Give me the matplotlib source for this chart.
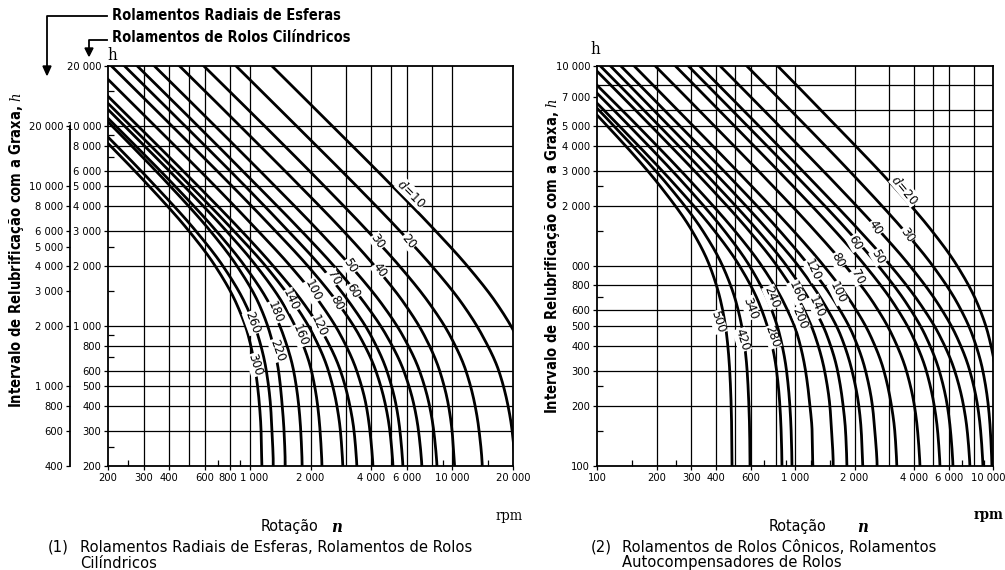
import numpy as np
import matplotlib
matplotlib.use("Agg")
import matplotlib.pyplot as plt
import matplotlib.transforms as mtransforms
from matplotlib.patches import Polygon

plt.rcParams['font.family'] = ['DejaVu Sans']
plt.rcParams['font.stretch'] = 'condensed'
plt.rcParams['mathtext.fontset'] = 'dejavuserif'

W, H = 1005, 570
fig = plt.figure(figsize=(W / 100, H / 100), dpi=100)


def px_axes(x0, y0, x1, y1):
    return fig.add_axes([x0 / W, 1 - y1 / H, (x1 - x0) / W, (y1 - y0) / H])


# ======================= data: left chart (1) =======================
L_xticks = [200, 300, 400, 600, 800, 1000, 2000, 4000, 6000, 10000, 20000]
L_xlabels = ['200', '300', '400', '600', '800', '1 000', '2 000', '4 000', '6 000', '10 000', '20 000']
L_xgrid = [300, 400, 500, 600, 800, 1000, 2000, 3000, 4000, 5000, 6000, 8000, 10000]
L_xminor = [250, 700, 900, 1500, 7000, 9000, 15000]
L_yticks = [20000, 10000, 8000, 6000, 5000, 4000, 3000, 2000, 1000, 800, 600, 500, 400, 300, 200]
L_ylabels = ['20 000', '10 000', '8 000', '6 000', '5 000', '4 000', '3 000', '2 000',
             '1 000', '800', '600', '500', '400', '300', '200']
L_ygrid = [10000, 8000, 6000, 5000, 4000, 3000, 2000, 1000, 800, 600, 500, 400, 300]
L_yminor = [15000, 9000, 7000, 2500, 1500, 900, 700, 250]
L_outer_ticks = [20000, 10000, 8000, 6000, 5000, 4000, 3000, 2000, 1000, 800, 600, 400]
L_outer_labels = ['20 000', '10 000', '8 000', '6 000', '5 000', '4 000', '3 000', '2 000',
                  '1 000', '800', '600', '400']

# interval h (inner scale) at which the speed of every curve was read
L_h = [30000, 20000, 10000, 5000, 3000, 2000, 1300, 900, 600, 400, 300, 200, 150]
L_d = [10, 20, 30, 40, 50, 60, 70, 80, 100, 120, 140, 160, 180, 220, 260, 300]
L_n = [
    [861, 1290, 2570, 5090, 8280, 11900, 16600, 20700, 24600, 27100, 28300, 29100, 29500],
    [572, 858, 1710, 3390, 5520, 7950, 11200, 14100, 17000, 18900, 19800, 20500, 20700],
    [396, 594, 1190, 2350, 3820, 5500, 7730, 9760, 11700, 13000, 13600, 14100, 14200],
    [301, 451, 900, 1780, 2900, 4150, 5810, 7290, 8680, 9610, 10000, 10300, 10500],
    [226, 339, 677, 1340, 2190, 3160, 4480, 5700, 6900, 7740, 8120, 8430, 8550],
    [186, 279, 557, 1100, 1800, 2610, 3710, 4740, 5770, 6500, 6830, 7100, 7210],
    [161, 241, 482, 954, 1550, 2240, 3140, 3970, 4760, 5300, 5530, 5720, 5800],
    [139, 208, 415, 823, 1340, 1940, 2740, 3480, 4200, 4700, 4930, 5110, 5180],
    [114, 172, 342, 678, 1100, 1590, 2240, 2820, 3380, 3770, 3930, 4070, 4120],
    [94, 141, 282, 559, 911, 1310, 1850, 2340, 2810, 3130, 3280, 3390, 3440],
    [87, 130, 260, 514, 835, 1200, 1660, 2070, 2450, 2700, 2810, 2890, 2930],
    [81, 122, 242, 477, 767, 1080, 1460, 1760, 2020, 2170, 2230, 2280, 2300],
    [73, 110, 219, 430, 684, 947, 1250, 1470, 1650, 1750, 1790, 1820, 1830],
    [70, 106, 210, 407, 639, 867, 1110, 1270, 1390, 1450, 1480, 1500, 1500],
    [59, 88, 177, 344, 542, 739, 951, 1100, 1210, 1270, 1290, 1310, 1310],
    [55, 83, 165, 320, 501, 677, 861, 985, 1070, 1120, 1140, 1150, 1160],
]
L_lab_n = [6300, 6100, 4300, 4400, 3150, 3250, 2600, 2700, 2050, 2200, 1600, 1780, 1340, 1370, 1030, 1060]
L_lab_h = [4600, 2650, 2650, 1900, 2000, 1500, 1750, 1300, 1500, 1000, 1350, 900, 1180, 760, 1040, 640]
L_lab_rot = [-45, -50, -55, -55, -58, -60, -60, -62, -63, -65, -65, -68, -68, -70, -70, -72]

# ======================= data: right chart (2) =======================
R_xticks = [100, 200, 300, 400, 600, 1000, 2000, 4000, 6000, 10000]
R_xlabels = ['100', '200', '300', '400', '600', '1 000', '2 000', '4 000', '6 000', '10 000']
R_xgrid = [200, 300, 400, 500, 600, 800, 1000, 2000, 3000, 4000, 5000, 6000, 8000]
R_xminor = [150, 250, 700, 900, 1200, 1500, 7000, 9000]
R_yticks = [10000, 7000, 5000, 4000, 3000, 2000, 1000, 800, 600, 500, 400, 300, 200, 100]
R_ylabels = ['10 000', '7 000', '5 000', '4 000', '3 000', '2 000', '000', '800', '600',
             '500', '400', '300', '200', '100']
R_ygrid = [8000, 6000, 5000, 4000, 3000, 2000, 1000, 800, 600, 500, 400, 300, 200]
R_yminor = [2500, 1500, 700, 250, 150]

R_h = [15000, 10000, 5000, 2500, 1500, 1000, 650, 450, 300, 200, 150, 100, 80]
R_d = [20, 30, 40, 50, 60, 70, 80, 100, 120, 140, 160, 200, 240, 280, 340, 420, 500]
R_n = [
    [546, 818, 1620, 3150, 4910, 6600, 8340, 9490, 10300, 10700, 10900, 11000, 11100],
    [381, 571, 1140, 2230, 3560, 4970, 6620, 7880, 8880, 9470, 9700, 9880, 9940],
    [279, 419, 835, 1650, 2670, 3810, 5260, 6510, 7630, 8360, 8660, 8900, 8980],
    [220, 330, 659, 1300, 2120, 3050, 4270, 5370, 6400, 7100, 7410, 7650, 7730],
    [193, 289, 577, 1140, 1850, 2640, 3660, 4550, 5350, 5880, 6100, 6280, 6330],
    [166, 249, 496, 980, 1590, 2270, 3150, 3910, 4600, 5050, 5250, 5400, 5450],
    [131, 197, 393, 777, 1260, 1800, 2500, 3100, 3650, 4010, 4160, 4280, 4320],
    [103, 154, 307, 606, 982, 1400, 1940, 2400, 2810, 3070, 3190, 3270, 3300],
    [88, 132, 263, 519, 837, 1180, 1610, 1970, 2270, 2460, 2530, 2600, 2610],
    [77, 117, 232, 457, 735, 1040, 1400, 1700, 1940, 2100, 2160, 2200, 2220],
    [69, 104, 207, 406, 650, 908, 1210, 1450, 1640, 1750, 1800, 1830, 1840],
    [63, 94, 188, 368, 586, 812, 1070, 1260, 1410, 1500, 1530, 1560, 1560],
    [54, 80, 161, 314, 496, 680, 882, 1030, 1130, 1190, 1220, 1230, 1240],
    [49, 73, 146, 283, 440, 590, 740, 838, 906, 942, 956, 966, 969],
    [43, 65, 130, 252, 392, 525, 659, 746, 807, 839, 851, 860, 863],
    [41, 62, 122, 231, 342, 431, 506, 548, 573, 585, 590, 593, 594],
    [38, 57, 113, 209, 302, 371, 424, 452, 468, 476, 479, 481, 482],
]
R_lab_n = [3594, 3679, 2535, 2626, 2009, 2080, 1648, 1648, 1233, 1291, 1023, 1060, 765, 765, 593, 540, 408]
R_lab_h = [2399, 1429, 1549, 1109, 1303, 881, 1072, 733, 955, 624, 741, 550, 700, 442, 617, 427, 525]
R_lab_rot = [-50, -55, -58, -60, -60, -62, -62, -64, -65, -66, -66, -68, -68, -70, -70, -72, -72]


# ======================= helpers =======================
def smooth_path(h_pts, n_pts, num=300):
    """Monotone cubic (PCHIP) line through the read points, in log-log space."""
    t = np.log10(np.asarray(h_pts, float))[::-1]
    y = np.log10(np.asarray(n_pts, float))[::-1]
    hk = np.diff(t)
    dk = np.diff(y) / hk
    m = np.zeros_like(y)
    m[0], m[-1] = dk[0], dk[-1]
    for k in range(1, len(y) - 1):
        if dk[k - 1] * dk[k] <= 0:
            m[k] = 0.0
        else:
            w1 = 2 * hk[k] + hk[k - 1]
            w2 = hk[k] + 2 * hk[k - 1]
            m[k] = (w1 + w2) / (w1 / dk[k - 1] + w2 / dk[k])
    tt = np.linspace(t[0], t[-1], num)
    idx = np.clip(np.searchsorted(t, tt) - 1, 0, len(t) - 2)
    s = (tt - t[idx]) / hk[idx]
    h00 = 2 * s ** 3 - 3 * s ** 2 + 1
    h10 = s ** 3 - 2 * s ** 2 + s
    h01 = -2 * s ** 3 + 3 * s ** 2
    h11 = s ** 3 - s ** 2
    yy = h00 * y[idx] + h10 * hk[idx] * m[idx] + h01 * y[idx + 1] + h11 * hk[idx] * m[idx + 1]
    return 10 ** yy, 10 ** tt


def setup(ax, xlim, ylim, xticks, xlabels, xgrid, xminor, yticks, ylabels, ygrid, yminor):
    ax.set_xscale('log')
    ax.set_yscale('log')
    ax.set_xlim(*xlim)
    ax.set_ylim(*ylim)
    for v in xgrid:
        ax.axvline(v, color='k', lw=0.9, zorder=1)
    for v in ygrid:
        ax.axhline(v, color='k', lw=0.9, zorder=1)
    ax.set_xticks(xticks)
    ax.set_xticklabels(xlabels)
    ax.set_yticks(yticks)
    ax.set_yticklabels(ylabels)
    ax.set_xticks(xminor, minor=True)
    ax.set_yticks(yminor, minor=True)
    ax.set_xticklabels([], minor=True)
    ax.set_yticklabels([], minor=True)
    ax.tick_params(which='major', direction='out', length=3, width=0.9, labelsize=8, pad=2)
    ax.tick_params(which='minor', direction='in', length=4, width=0.9)
    for s in ax.spines.values():
        s.set_linewidth(1.3)


def draw_curves(ax, h_pts, curves):
    for n_pts in curves:
        n, h = smooth_path(h_pts, n_pts)
        ax.plot(n, h, color='k', lw=2.0, zorder=3, solid_capstyle='butt')


def draw_labels(ax, ds, ln, lh, rot):
    for i, (d, n, h, r) in enumerate(zip(ds, ln, lh, rot)):
        txt = (r'$d$=%d' % d) if i == 0 else str(d)
        ax.text(n, h, txt, rotation=r, ha='center', va='center', fontsize=9.5,
                zorder=5, bbox=dict(facecolor='white', edgecolor='none', pad=0.3),
                rotation_mode='anchor')


def shift_label(lbl, dx_px):
    lbl.set_transform(lbl.get_transform() +
                      mtransforms.ScaledTranslation(dx_px / 100, 0, fig.dpi_scale_trans))


# ======================= charts =======================
axL = px_axes(108, 66, 513, 466)
setup(axL, (200, 20000), (200, 20000), L_xticks, L_xlabels, L_xgrid, L_xminor,
      L_yticks, L_ylabels, L_ygrid, L_yminor)
draw_curves(axL, L_h, L_n)
draw_labels(axL, L_d, L_lab_n, L_lab_h, L_lab_rot)
xl = axL.get_xticklabels()
shift_label(xl[4], -2)
shift_label(xl[5], 5)

axR = px_axes(597, 66, 993, 466)
setup(axR, (100, 10000), (100, 10000), R_xticks, R_xlabels, R_xgrid, R_xminor,
      R_yticks, R_ylabels, R_ygrid, R_yminor)
draw_curves(axR, R_h, R_n)
draw_labels(axR, R_d, R_lab_n, R_lab_h, R_lab_rot)
shift_label(axR.get_xticklabels()[-1], -5)

# outer (ball bearing) scale of the left chart: double the inner values
axO = px_axes(70, 66, 71, 466)
axO.set_yscale('log')
axO.set_ylim(400, 40000)
for s in ['top', 'right', 'bottom']:
    axO.spines[s].set_visible(False)
axO.spines['left'].set_bounds(400, 20000)
axO.spines['left'].set_linewidth(1.3)
axO.patch.set_visible(False)
axO.set_xticks([])
axO.set_yticks(L_outer_ticks)
axO.set_yticklabels(L_outer_labels)
axO.set_yticks([], minor=True)
axO.tick_params(axis='y', direction='out', length=3, width=0.9, labelsize=8, pad=2)

# ======================= overlay texts =======================
ov = fig.add_axes([0, 0, 1, 1])
ov.set_xlim(0, W)
ov.set_ylim(H, 0)
ov.axis('off')
ov.patch.set_visible(False)

ylab = 'Intervalo de Relubrificação com a Graxa, $h$'
ov.text(17, 250, ylab, rotation=90, ha='center', va='center', fontsize=10.5, weight='bold')
ov.text(552, 256, ylab, rotation=90, ha='center', va='center', fontsize=10.5, weight='bold')

ov.text(112, 55, 'h', family='DejaVu Serif', fontsize=12, ha='center', va='center')
ov.text(595, 49, 'h', family='DejaVu Serif', fontsize=12, ha='center', va='center')

ov.text(289, 527, 'Rotação', fontsize=11.5, ha='center', va='center')
ov.text(337, 528, 'n', family='DejaVu Serif', style='italic', weight='bold', fontsize=12,
        ha='center', va='center')
ov.text(509, 516, 'rpm', family='DejaVu Serif', fontsize=10.5, ha='center', va='center')
ov.text(798, 527, 'Rotação', fontsize=11.5, ha='center', va='center')
ov.text(863, 528, 'n', family='DejaVu Serif', style='italic', weight='bold', fontsize=12,
        ha='center', va='center')
ov.text(1004, 515, 'rpm', family='DejaVu Serif', fontsize=10.5, weight='bold', ha='right', va='center')

ov.text(48, 547, '(1)', fontsize=11.8, ha='left', va='center')
ov.text(80, 547, 'Rolamentos Radiais de Esferas, Rolamentos de Rolos', fontsize=11.8, ha='left', va='center')
ov.text(80, 563, 'Cilíndricos', fontsize=11.8, ha='left', va='center')
ov.text(591, 547, '(2)', fontsize=11.8, ha='left', va='center')
ov.text(622, 547, 'Rolamentos de Rolos Cônicos, Rolamentos', fontsize=11.8, ha='left', va='center')
ov.text(622, 563, 'Autocompensadores de Rolos', fontsize=11.8, ha='left', va='center')

ov.text(112, 16, 'Rolamentos Radiais de Esferas', fontsize=10.5, weight='bold', ha='left', va='center')
ov.text(112, 38, 'Rolamentos de Rolos Cilíndricos', fontsize=10.5, weight='bold', ha='left', va='center')
ov.plot([107, 47, 47], [16, 16, 67], color='k', lw=1.3)
ov.add_patch(Polygon([[43, 66], [51, 66], [47, 75]], closed=True, color='k'))
ov.plot([107, 89, 89], [40, 40, 49], color='k', lw=1.3)
ov.add_patch(Polygon([[85, 48], [93, 48], [89, 56]], closed=True, color='k'))

fig.savefig('out.png', dpi=100)
